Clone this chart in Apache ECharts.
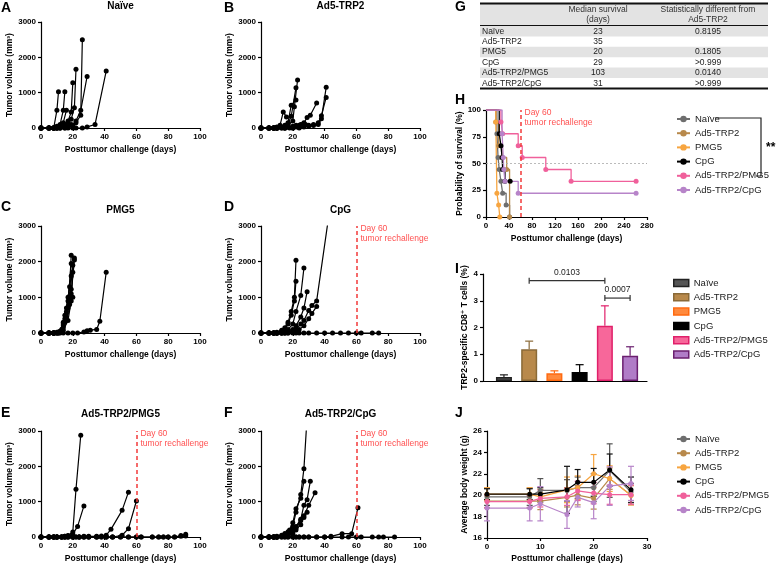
<!DOCTYPE html>
<html><head><meta charset="utf-8">
<script src="https://cdn.jsdelivr.net/npm/echarts@6/dist/echarts.min.js"></script>
<style>html,body{margin:0;padding:0;background:#fff}#c{width:780px;height:565px}</style>
</head><body><div id="c"></div>
<script>
// ---------------- DATA ----------------
const groups = ['Naïve','Ad5-TRP2','PMG5','CpG','Ad5-TRP2/PMG5','Ad5-TRP2/CpG'];

// A-F: individual tumor volumes [day, mm3]
const miceNaive = [
 [[0,0],[5,0],[8,0],[10,500],[11,1025]],
 [[0,0],[5,0],[8,0],[10,50],[12,100],[14,500],[15,1025]],
 [[0,0],[5,0],[8,0],[10,30],[12,80],[14,150],[16,500]],
 [[0,0],[5,0],[8,0],[10,0],[12,40],[15,100],[17,200],[19,450],[20,1280]],
 [[0,0],[5,0],[8,0],[10,0],[12,20],[15,60],[17,150],[19,250],[21,570],[22,1660]],
 [[0,0],[5,0],[8,0],[10,0],[12,0],[15,30],[17,60],[19,100],[22,150],[25,360],[26,2500]],
 [[0,0],[5,0],[8,0],[10,0],[12,0],[15,0],[17,30],[20,80],[22,200],[25,500],[29,1460]],
 [[0,0],[5,0],[8,0],[10,0],[12,0],[15,0],[17,0],[20,0],[22,0],[26,0],[29,30],[34,100],[41,1610]]
];
const miceAd5 = [
 [[0,0],[5,0],[8,0],[10,30],[12,80],[14,455],[16,313]],
 [[0,0],[5,0],[8,0],[10,0],[12,30],[15,80],[17,150],[19,645],[22,790]],
 [[0,0],[5,0],[8,0],[10,0],[13,20],[15,60],[17,120],[19,330],[22,1140]],
 [[0,0],[5,0],[8,0],[10,0],[13,0],[15,40],[17,80],[20,200],[21,600],[23,1360]],
 [[0,0],[5,0],[8,0],[10,0],[15,0],[17,20],[20,50],[22,80],[25,100],[27,150],[29,295],[31,360],[35,710]],
 [[0,0],[5,0],[8,0],[10,0],[15,0],[20,0],[22,30],[25,60],[28,100],[30,80],[33,100],[36,100],[38,265],[41,1150]],
 [[0,0],[5,0],[8,0],[10,0],[15,0],[20,0],[24,0],[27,30],[30,50],[33,70],[36,150],[38,350],[41,865]],
 [[0,0],[5,0],[8,0],[10,0],[13,0],[15,0],[18,0],[20,20],[22,50],[24,80],[26,100]]
];
const micePMG5 = [
 [[0,0],[5,0],[8,0],[10,0],[12,50],[14,300],[16,700],[18,1300],[19,2180]],
 [[0,0],[5,0],[8,0],[10,20],[13,100],[15,500],[17,900],[19,1950]],
 [[0,0],[5,0],[8,0],[10,0],[13,50],[15,400],[17,1000],[19,1600],[21,2100]],
 [[0,0],[5,0],[8,0],[11,30],[14,200],[16,600],[18,1000],[19,1230]],
 [[0,0],[5,0],[8,0],[11,0],[14,150],[16,450],[18,800],[20,1000]],
 [[0,0],[5,0],[8,0],[12,20],[15,300],[17,700],[19,1100],[21,2050]],
 [[0,0],[5,0],[8,0],[11,0],[14,80],[17,350],[19,900],[20,1700]],
 [[0,0],[5,0],[8,0],[11,20],[14,250],[16,550],[18,1000],[20,1900]],
 [[0,0],[5,0],[8,0],[10,0],[12,0],[14,0],[17,0],[20,0],[23,0],[27,30],[29,60],[31,80],[35,100],[37,330],[41,1700]]
];
const miceCpG = [
 [[0,0],[5,0],[8,0],[10,20],[13,80],[15,150],[17,300],[19,600],[21,1000],[22,2040]],
 [[0,0],[5,0],[8,0],[10,0],[13,40],[15,100],[17,250],[19,500],[21,900],[22,1450]],
 [[0,0],[5,0],[8,0],[10,0],[13,30],[15,60],[17,100],[20,250],[22,600],[25,1050],[27,1820]],
 [[0,0],[5,0],[8,0],[10,0],[13,0],[15,20],[17,60],[20,100],[22,200],[25,450],[27,700],[29,1160]],
 [[0,0],[5,0],[8,0],[10,0],[13,0],[15,0],[17,20],[20,50],[22,100],[25,250],[27,350],[30,630],[32,770],[35,900],[43,3400]],
 [[0,0],[5,0],[8,0],[10,0],[13,0],[15,0],[17,0],[20,20],[22,50],[24,100],[27,200],[30,400],[32,550],[35,740]],
 [[0,0],[5,0],[8,0],[10,0],[13,0],[15,0],[17,0],[20,0],[22,0],[24,0],[27,0],[30,0],[35,0],[40,0],[45,0],[50,0],[55,0],[60,0],[63,0],[70,0],[74,0]]
];
const miceAd5PMG5 = [
 [[0,0],[5,0],[8,0],[10,0],[13,0],[15,20],[17,40],[20,140],[22,1350],[25,2880]],
 [[0,0],[5,0],[8,0],[10,0],[13,0],[15,20],[17,30],[20,80],[23,300],[27,880]],
 [[0,0],[5,0],[8,0],[10,0],[13,0],[15,0],[17,0],[20,0],[24,0],[27,20],[30,20],[35,20],[38,30],[41,50],[44,217],[51,755],[55,1270]],
 [[0,0],[5,0],[8,0],[10,0],[15,0],[20,0],[24,0],[27,0],[30,0],[35,0],[41,0],[45,0],[51,50],[55,235],[60,1020]],
 [[0,0],[5,0],[8,0],[10,0],[13,0],[15,0],[17,0],[20,0],[22,0],[24,0],[27,0],[30,0],[35,0],[38,0],[41,0],[45,0],[50,0],[55,0],[60,0],[63,0],[70,0],[74,0],[77,0],[80,0],[84,0],[88,40],[91,80]],
 [[0,0],[5,0],[8,0],[10,0],[13,0],[15,0],[17,0],[20,0],[22,0],[24,0],[27,0],[30,0],[35,0],[38,0],[41,0],[45,0],[50,0],[55,0],[60,0],[63,0],[70,0],[74,0],[77,0],[80,0],[84,0],[88,20],[91,30]]
];
const miceAd5CpG = [
 [[0,0],[5,0],[8,0],[10,20],[13,50],[15,100],[17,150],[20,300],[22,700],[25,1200],[27,1935],[29,3400]],
 [[0,0],[5,0],[8,0],[10,0],[13,30],[15,60],[18,200],[20,400],[22,800],[25,1100],[27,1575]],
 [[0,0],[5,0],[8,0],[10,0],[15,30],[18,100],[20,200],[22,300],[25,500],[27,900],[29,1057],[31,1575]],
 [[0,0],[5,0],[8,0],[10,0],[15,20],[20,100],[22,200],[25,350],[27,600],[30,900],[34,1255]],
 [[0,0],[5,0],[8,0],[10,0],[15,50],[17,80],[20,150],[22,250],[25,470],[27,550],[29,700]],
 [[0,0],[5,0],[8,0],[10,0],[13,0],[15,0],[17,0],[20,0],[22,0],[24,0],[27,0],[30,0],[35,0],[40,0],[44,20],[51,95],[57,95],[61,830]],
 [[0,0],[5,0],[8,0],[10,0],[13,0],[15,0],[17,0],[20,0],[22,0],[24,0],[27,0],[30,0],[35,0],[40,0],[44,0],[51,0],[55,0],[60,0],[63,0],[70,0],[74,0],[77,0],[84,0]]
];

// G: table
const tableMedian = ['23','35','20','29','103','31'];
const tablePval = ['0.8195','','0.1805','>0.999','0.0140','>0.999'];

// H: Kaplan-Meier [day, % survival]
const survNaive = [[0,100],[19,77.8],[21,55.6],[23,44.4],[26,33.3],[29,22.2],[35,11.1],[41,0]];
const survAd5 = [[0,100],[17,88.9],[22,66.7],[28,55.6],[36,44.4],[41,0]];
const survPMG5 = [[0,100],[17,88.9],[19,22.2],[22,11.1],[24,0]];
const survCpG = [[0,100],[23,77.8],[26,66.7],[28,55.6],[29,44.4],[33,33.3],[42,33.3]];
const survAd5PMG5 = [[0,100],[26,88.9],[29,77.8],[56,66.7],[63,55.6],[104,44.4],[148,33.3],[261,33.3]];
const survAd5CpG = [[0,100],[28,77.8],[30,55.6],[31,44.4],[33,33.3],[56,22.2],[261,22.2]];

// I: TRP2-specific CD8+ T cells (%)
const iMean = [0.15,1.19,0.29,0.34,2.07,0.94];
const iErr  = [0.08,0.30,0.09,0.27,0.74,0.34];
const iSig = [[1,4,3.75,'0.0103'],[4,5,3.1,'0.0007']];

// J: body weight (g)
const jDays = [0,8,10,15,17,20,23,27];
const jNaive   = [19.85,19.85,20.45,20.45,20.7,20.7,22.3,20.3];
const jAd5     = [19.45,19.45,19.45,19.8,20.0,19.7,21.55,20.0];
const jPMG5    = [20.1,20.1,19.85,20.5,20.7,22.0,21.55,20.0];
const jCpG     = [20.1,20.1,20.1,20.5,21.2,21.2,22.35,20.5];
const jAd5PMG5 = [19.4,19.4,19.7,19.85,20.4,20.2,20.05,20.05];
const jAd5CpG  = [18.8,18.8,19.2,18.2,19.8,19.3,20.85,21.1];
const jErrNaive   = [0.8,0.8,1.1,1.0,1.0,1.3,2.5,0.8];
const jErrAd5     = [0.6,0.6,0.8,0.9,0.9,1.0,1.0,0.9];
const jErrPMG5    = [0.6,0.6,0.7,1.2,1.1,1.8,1.2,0.9];
const jErrCpG     = [0.5,0.5,0.6,2.2,1.2,1.3,1.5,1.2];
const jErrAd5PMG5 = [0.6,0.6,0.8,0.8,0.9,1.0,0.9,0.9];
const jErrAd5CpG  = [1.2,1.2,1.6,1.3,0.9,1.5,1.8,1.6];

// ---------------- STYLE ----------------
const FONT = '"Liberation Sans", Arial, Helvetica, "DejaVu Sans", sans-serif';
const lineColors = ['#6e6e6e','#b8894b','#f7a540','#000000','#f0609b','#b784c9'];
const barFill   = ['#555555','#b8894b','#ff8a3d','#000000','#f7679a','#b07cc7'];
const barBorder = ['#222222','#8a6a38','#ff6a10','#000000','#e0206a','#6b1f6f'];
const red = '#f23a3a';

const chart = echarts.init(document.getElementById('c'), null, {renderer:'canvas'});

const grids = [
  [41,22,159,106],[261,22,159,106],
  [41,226,159,107],[261,226,159,107],
  [41,431,159,106],[261,431,159,106],
  [486,110,161,107],[483,274,164,107],[487,431,160,107]
].map(g => ({left:g[0], top:g[1], width:g[2], height:g[3], containLabel:false}));

const axLine = {show:true, onZero:false, lineStyle:{color:'#000', width:1.2}};
const axTick = {show:true, inside:false, length:3, lineStyle:{color:'#000', width:1.2}};
const axLabel = {fontFamily:FONT, fontSize:8, fontWeight:'bold', color:'#000', margin:5, formatter:v=>String(v)};
const nameStyle = {fontFamily:FONT, fontSize:8.5, fontWeight:'bold', color:'#000'};
function ax(gi, min, max, interval, name, nameGap, extra){
  return Object.assign({type:'value', gridIndex:gi, min, max, interval, name, nameLocation:'middle', nameGap,
    nameTextStyle:nameStyle, axisLine:axLine, axisTick:axTick, axisLabel:axLabel, splitLine:{show:false}}, extra||{});
}
const xName = 'Posttumor challenge (days)';
const tumName = 'Tumor volume (mm³)';
const xAxes = [], yAxes = [];
for (let g=0; g<6; g++){
  xAxes.push(ax(g,0,100,20,xName,17));
  yAxes.push(ax(g,0,3000,1000,tumName,23));
}
xAxes.push(ax(6,0,280,40,xName,17));
yAxes.push(ax(6,0,100,25,'Probability of survival (%)',20));
xAxes.push(ax(7,-0.83,5.67,1,'',0,{axisTick:{show:false},axisLabel:{show:false}}));
yAxes.push(ax(7,0,4,1,'TRP2-specific CD8⁺ T cells (%)',9));
xAxes.push(ax(8,0,30,10,xName,16));
yAxes.push(ax(8,16,26,2,'Average body weight (g)',15));

const series = [];
const survSets = [survNaive,survAd5,survPMG5,survCpG,survAd5PMG5,survAd5CpG];
survSets.forEach((d,i)=>{
  series.push({type:'line', name:groups[i], xAxisIndex:6, yAxisIndex:6, data:d, step:'end',
    symbol:'circle', symbolSize:(v,p)=>p.dataIndex===0?0:5, color:lineColors[i],
    lineStyle:{width:1.3, color:lineColors[i]}, itemStyle:{color:lineColors[i]}, silent:true, z:3,
    markLine: i===0 ? {silent:true, symbol:'none', label:{show:false},
      data:[{yAxis:50, lineStyle:{color:'#aaa', type:[2,2], width:0.8}},
            {xAxis:60, lineStyle:{color:red, type:[4,3], width:1.5}}]} : undefined});
});
const miceSets = [miceNaive,miceAd5,micePMG5,miceCpG,miceAd5PMG5,miceAd5CpG];
miceSets.forEach((set,g)=>{
  set.forEach((d,k)=>{
    const s = {type:'line', name:'m'+g+'_'+k, xAxisIndex:g, yAxisIndex:g, data:d, symbol:'circle', symbolSize:5,
      lineStyle:{width:1.2,color:'#000'}, itemStyle:{color:'#000'}, silent:true, clip:true, z:3};
    if (g>=3 && k===0) s.markLine = {silent:true, symbol:'none', label:{show:false},
      data:[{xAxis:60, lineStyle:{color:red, type:[4,3], width:1.5}}]};
    series.push(s);
  });
});
iMean.forEach((m,i)=>{
  series.push({type:'bar', name:groups[i], xAxisIndex:7, yAxisIndex:7, stack:'all', barWidth:16,
    data:[[i,m]], itemStyle:{color:barFill[i], borderColor:barBorder[i], borderWidth:1.5}, silent:true, z:2});
});
function errBar(both){
  return function(params, api){
    const x=api.value(0), y=api.value(1), e=api.value(2);
    const c = api.visual('color');
    const p1 = api.coord([x, y+e]); const p0 = api.coord([x, both ? y-e : y]);
    const cw = both ? 3 : 4;
    const st = {stroke:c, lineWidth:1.2};
    const ch = [{type:'line', shape:{x1:p1[0],y1:p1[1],x2:p0[0],y2:p0[1]}, style:st},
      {type:'line', shape:{x1:p1[0]-cw,y1:p1[1],x2:p1[0]+cw,y2:p1[1]}, style:st}];
    if (both) ch.push({type:'line', shape:{x1:p0[0]-cw,y1:p0[1],x2:p0[0]+cw,y2:p0[1]}, style:st});
    return {type:'group', children:ch};
  };
}
series.push({type:'custom', name:'iErr', xAxisIndex:7, yAxisIndex:7, silent:true, z:4,
  renderItem:errBar(false), encode:{x:0,y:1},
  data:iMean.map((m,i)=>({value:[i,m,iErr[i]], itemStyle:{color:barBorder[i]}}))});
series.push({type:'custom', name:'iSig', xAxisIndex:7, yAxisIndex:7, silent:true, z:5, encode:{x:0,y:2},
  data:iSig.map(s=>[s[0],s[1],s[2]]),
  renderItem:(params, api)=>{
    const a = api.coord([api.value(0), api.value(2)]), b = api.coord([api.value(1), api.value(2)]);
    const st = {stroke:'#333', lineWidth:1.2};
    return {type:'group', children:[
      {type:'line', shape:{x1:a[0],y1:a[1],x2:b[0],y2:b[1]}, style:st},
      {type:'line', shape:{x1:a[0],y1:a[1]-3,x2:a[0],y2:a[1]+3}, style:st},
      {type:'line', shape:{x1:b[0],y1:b[1]-3,x2:b[0],y2:b[1]+3}, style:st},
      {type:'text', x:(a[0]+b[0])/2, y:a[1]-4, style:{text:iSig[params.dataIndex][3], fontFamily:FONT, fontSize:8.5,
        fill:'#222', align:'center', verticalAlign:'bottom'}}
    ]};
  }});
const jSets = [jNaive,jAd5,jPMG5,jCpG,jAd5PMG5,jAd5CpG];
const jErrs = [jErrNaive,jErrAd5,jErrPMG5,jErrCpG,jErrAd5PMG5,jErrAd5CpG];
jSets.forEach((v,i)=>{
  series.push({type:'custom', name:'jErr'+i, xAxisIndex:8, yAxisIndex:8, silent:true, z:2,
    renderItem:errBar(true), encode:{x:0,y:1}, itemStyle:{color: i===0?'#555':(i===3?'#111':lineColors[i])},
    data:jDays.map((d,k)=>[d, v[k], jErrs[i][k]])});
});
jSets.forEach((v,i)=>{
  series.push({type:'line', name:groups[i], xAxisIndex:8, yAxisIndex:8, data:jDays.map((d,k)=>[d,v[k]]),
    symbol:'circle', symbolSize:5, color:lineColors[i], lineStyle:{width:1.2,color:lineColors[i]},
    itemStyle:{color:lineColors[i]}, silent:true, z:3});
});

const legText = {fontFamily:FONT, fontSize:9.5, color:'#222'};
const legends = [
  {left:671, top:109, orient:'vertical', itemWidth:13, itemHeight:8, itemGap:4.2, textStyle:legText, data:groups.slice(), selectedMode:false},
  {left:668, top:273, orient:'vertical', itemWidth:15, itemHeight:7, itemGap:4.3, textStyle:legText, selectedMode:false,
    data:groups.map((g,i)=>({name:g, icon:'rect', itemStyle:{color:barFill[i], borderColor:barBorder[i], borderWidth:1.5}}))},
  {left:671, top:429, orient:'vertical', itemWidth:13, itemHeight:8, itemGap:4.2, textStyle:legText, data:groups.slice(), selectedMode:false}
];

chart.setOption({animation:false, backgroundColor:'#fff', grid:grids, xAxis:xAxes, yAxis:yAxes, legend:legends, series});

// ---------------- GRAPHIC (titles, table, annotations) ----------------
const gfx = [];
function txt(x,y,text,size,weight,color,align,vAlign){
  gfx.push({type:'text', x, y, silent:true, style:{text, fontFamily:FONT, fontSize:size, fontWeight:weight||'normal',
    fill:color||'#000', align:align||'left', verticalAlign:vAlign||'middle'}});
}
const titles = ['Naïve','Ad5-TRP2','PMG5','CpG','Ad5-TRP2/PMG5','Ad5-TRP2/CpG'];
const titleY = [6,6,210,210,414,414];
titles.forEach((t,i)=>txt(grids[i].left+grids[i].width/2, titleY[i], t, 10, 'bold', '#000', 'center'));
[['A',1,8],['B',224,8],['C',1,207],['D',224,207],['E',1,413],['F',224,413],['G',455,7],['H',455,100],['I',455,269],['J',455,413]]
  .forEach(l=>txt(l[1],l[2],l[0],14,'bold'));
const tL=480, tR=768, rowTop=26, rowH=10.4;
gfx.push({type:'rect', shape:{x:tL,y:4,width:tR-tL,height:21}, style:{fill:'#e3e3e3'}, silent:true});
groups.forEach((g,i)=>{
  if (i%2===0) gfx.push({type:'rect', shape:{x:tL,y:rowTop+i*rowH,width:tR-tL,height:rowH}, style:{fill:'#e3e3e3'}, silent:true});
});
gfx.push({type:'line', shape:{x1:tL,y1:3.5,x2:tR,y2:3.5}, style:{stroke:'#111',lineWidth:2}, silent:true});
gfx.push({type:'line', shape:{x1:tL,y1:25.5,x2:tR,y2:25.5}, style:{stroke:'#111',lineWidth:1}, silent:true});
gfx.push({type:'line', shape:{x1:tL,y1:88.5,x2:tR,y2:88.5}, style:{stroke:'#111',lineWidth:2}, silent:true});
txt(598,9.5,'Median survival',8.5,'normal','#333','center');
txt(598,19.5,'(days)',8.5,'normal','#333','center');
txt(708,9.5,'Statistically different from',8.5,'normal','#333','center');
txt(708,19.5,'Ad5-TRP2',8.5,'normal','#333','center');
groups.forEach((g,i)=>{
  const y = rowTop + i*rowH + rowH/2;
  txt(482,y,g,8.5,'normal','#222','left');
  txt(598,y,tableMedian[i],8.5,'normal','#222','center');
  if (tablePval[i]) txt(708,y,tablePval[i],8.5,'normal','#222','center');
});
gfx.push({type:'polyline', shape:{points:[[715,118],[761,118],[761,176],[756,176]]}, style:{stroke:'#222',lineWidth:1.2,fill:null}, silent:true});
txt(766,148,'**',12,'bold','#000','left');
[[3,3000],[4,3000],[5,3000],[6,100]].forEach(a=>{
  const p = chart.convertToPixel({gridIndex:a[0]}, [60, a[1]]);
  txt(p[0]+4, p[1]+3, 'Day 60', 8.5, 'normal', '#ff5050', 'left');
  txt(p[0]+4, p[1]+13, 'tumor rechallenge', 8.5, 'normal', '#ff5050', 'left');
});
chart.setOption({graphic:{elements:gfx}});
</script>
</body></html>
